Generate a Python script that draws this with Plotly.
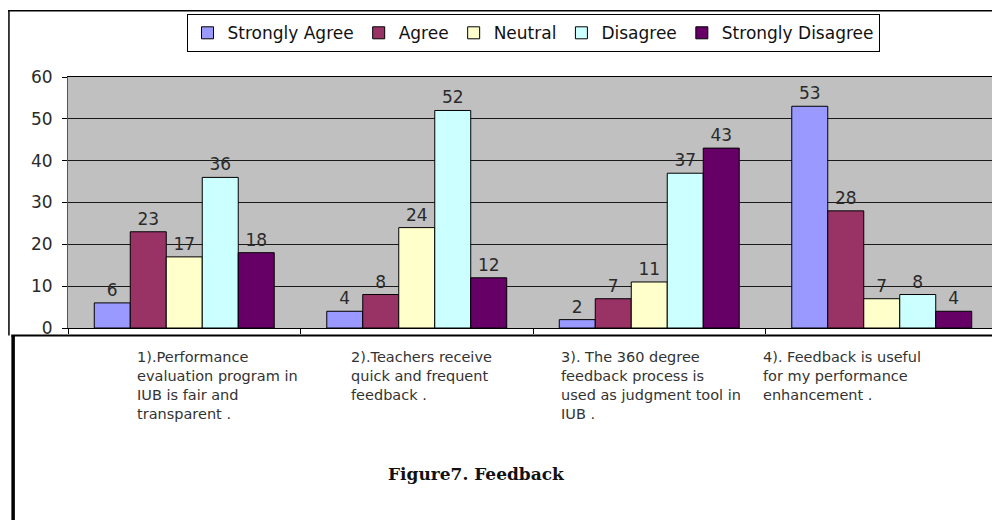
import plotly.graph_objects as go

categories = ["Q1", "Q2", "Q3", "Q4"]
category_labels = [
    "1).Performance<br>evaluation program in<br>IUB is fair and<br>transparent .",
    "2).Teachers receive<br>quick and frequent<br>feedback .",
    "3). The 360 degree<br>feedback process is<br>used as judgment tool in<br>IUB .",
    "4). Feedback is useful<br>for my performance<br>enhancement .",
]
series_names = ["Strongly Agree", "Agree", "Neutral", "Disagree", "Strongly Disagree"]
strongly_agree = [6, 4, 2, 53]
agree = [23, 8, 7, 28]
neutral = [17, 24, 11, 7]
disagree = [36, 52, 37, 8]
strongly_disagree = [18, 12, 43, 4]
series_values = [strongly_agree, agree, neutral, disagree, strongly_disagree]
colors = ["#9999FF", "#993366", "#FFFFCC", "#CCFFFF", "#660066"]
y_ticks = [0, 10, 20, 30, 40, 50, 60]
caption = "Figure7. Feedback"

SANS = "DejaVu Sans"

fig = go.Figure()
for name, vals, col in zip(series_names, series_values, colors):
    fig.add_trace(go.Bar(
        x=categories, y=vals, name=name,
        marker=dict(color=col, line=dict(color="#000000", width=1)),
        text=[str(v) for v in vals], textposition="outside",
        textfont=dict(family=SANS, size=17, color="#2a2a2a"),
        cliponaxis=False,
    ))

# category labels (left-aligned text blocks under each group)
label_shift = [-49, -68, -90, -121]
for cat, lab, sh in zip(categories, category_labels, label_shift):
    fig.add_annotation(
        x=cat, xref="x", y=-0.075, yref="paper", text=lab, showarrow=False,
        xanchor="left", yanchor="top", align="left", xshift=sh,
        font=dict(family=SANS, size=14.5, color="#333333"),
    )

fig.add_annotation(
    x=0.439, xref="paper", y=-0.58, yref="paper", text="<b>" + caption + "</b>",
    showarrow=False, xanchor="center", yanchor="middle",
    font=dict(family="DejaVu Serif", size=17, color="#111111"),
)

# frame lines
fig.add_shape(type="line", xref="paper", yref="paper", x0=-0.0645, x1=1.0, y0=1.264, y1=1.264,
              line=dict(color="#000000", width=1.5))
fig.add_shape(type="line", xref="paper", yref="paper", x0=-0.0635, x1=-0.0635, y0=1.264, y1=-0.03,
              line=dict(color="#000000", width=1.5))
fig.add_shape(type="line", xref="paper", yref="paper", x0=-0.061, x1=1.01, y0=-0.03, y1=-0.03,
              line=dict(color="#000000", width=2))
fig.add_shape(type="line", xref="paper", yref="paper", x0=-0.059, x1=-0.059, y0=-0.03, y1=-0.8,
              line=dict(color="#000000", width=3.5))

fig.update_layout(
    width=992, height=512,
    margin=dict(l=60, r=2, t=69, b=192),
    paper_bgcolor="#FFFFFF", plot_bgcolor="#C0C0C0",
    barmode="group", bargap=0.226, bargroupgap=0,
    font=dict(family=SANS, size=16, color="#222222"),
    showlegend=True,
    legend=dict(
        orientation="h", x=0.5, xanchor="center", y=1.25, yanchor="top",
        bgcolor="#FFFFFF", bordercolor="#000000", borderwidth=1,
        font=dict(family=SANS, size=17, color="#111111"),
        itemwidth=30, tracegroupgap=0,
    ),
    xaxis=dict(
        showticklabels=False, ticks="outside", tickson="boundaries", ticklen=5,
        tickcolor="#000000", showline=True, linecolor="#000000", linewidth=1,
        mirror=True, showgrid=False,
    ),
    yaxis=dict(
        range=[0, 60], tickvals=y_ticks, ticks="outside", ticklen=5,
        tickcolor="#000000", showgrid=True, gridcolor="#1a1a1a", gridwidth=1,
        showline=True, linecolor="#555555", linewidth=1, mirror=True,
        zeroline=False, ticklabelstandoff=6,
        tickfont=dict(family=SANS, size=17, color="#2a2a2a"),
    ),
)

fig.write_html("out.html")
